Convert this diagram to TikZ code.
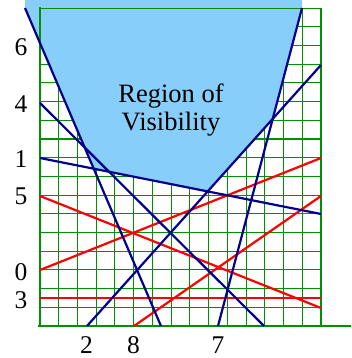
\documentclass[tikz,border=0pt]{standalone}
\usepackage{fontspec}
\setmainfont{Liberation Serif}
\definecolor{gridgreen}{RGB}{0,145,0}
\definecolor{skyfill}{RGB}{135,206,250}
\definecolor{navyline}{RGB}{0,0,140}
\tikzset{
  gridline/.style={draw=gridgreen, line width=0.9pt},
  gridthick/.style={draw=gridgreen, line width=1.4pt},
  axisline/.style={draw=gridgreen, line width=2.2pt},
  blueline/.style={draw=navyline, line width=2.2pt},
  redline/.style={draw=red, line width=2.2pt},
  digit/.style={font=\fontsize{25.5}{30}\selectfont, inner sep=0pt},
  regiontext/.style={font=\fontsize{26.5}{28.3}\selectfont, inner sep=0pt, align=center}
}
\begin{document}
\begin{tikzpicture}[x=1pt,y=-1pt]
\useasboundingbox (0,0) rectangle (351,358);
% grid
\foreach \i in {1,...,14} \draw[gridline] ({40+\i*281/15},8) -- ({40+\i*281/15},326);
\foreach \j in {1,...,16} \draw[gridline] (40,{326-\j*318/17}) -- (321,{326-\j*318/17});
\foreach \i in {5,10} \draw[gridthick] ({40+\i*281/15},8) -- ({40+\i*281/15},326);
\foreach \j in {5,10,15} \draw[gridthick] (40,{326-\j*318/17}) -- (321,{326-\j*318/17});
% line end points
\coordinate (b1s) at (25,8);   \coordinate (b1e) at (161,326);
\coordinate (b2s) at (40,103); \coordinate (b2e) at (264,326);
\coordinate (b3s) at (40,158); \coordinate (b3e) at (321,214);
\coordinate (b4s) at (87,326); \coordinate (b4e) at (321,65);
\coordinate (b5s) at (218,326);\coordinate (b5e) at (302,8);
\coordinate (r1s) at (40,196); \coordinate (r1e) at (321,308);
\coordinate (r2s) at (40,270); \coordinate (r2e) at (321,158);
\coordinate (r3s) at (134,326);\coordinate (r3e) at (321,196);
\coordinate (r4s) at (40,298); \coordinate (r4e) at (321,298);
% region of visibility
\fill[skyfill] (25,0) -- (b1s)
  -- (intersection of b1s--b1e and b3s--b3e)
  -- (intersection of b3s--b3e and b4s--b4e)
  -- (intersection of b4s--b4e and b5s--b5e)
  -- (b5e) -- (302,0) -- cycle;
% frame
\draw[gridline] (40,8) -- (321,8);
\draw[axisline] (40,7) -- (40,327);
\draw[axisline] (321,8) -- (321,326);
\draw[axisline] (38,326) -- (351,326);
% red lines
\draw[redline] (r1s) -- (r1e);
\draw[redline] (r2s) -- (r2e);
\draw[redline] (r3s) -- (r3e);
\draw[redline] (r4s) -- (r4e);
% blue lines
\draw[blueline] (b1s) -- (b1e);
\draw[blueline] (b2s) -- (b2e);
\draw[blueline] (b3s) -- (b3e);
\draw[blueline] (b4s) -- (b4e);
\draw[blueline] (b5s) -- (b5e);
% text
\node[regiontext] (title) at (171,109.7) {Region of\\Visibility};
\node[digit] (l6) at (21,47) {6};
\node[digit] (l4) at (21,104) {4};
\node[digit] (l1) at (21,159) {1};
\node[digit] (l5) at (21,196.5) {5};
\node[digit] (l0) at (21,272) {0};
\node[digit] (l3) at (21,300) {3};
\node[digit] (x2) at (86.5,345.5) {2};
\node[digit] (x8) at (133.5,345.5) {8};
\node[digit] (x7) at (218,345.5) {7};
\end{tikzpicture}
\end{document}
